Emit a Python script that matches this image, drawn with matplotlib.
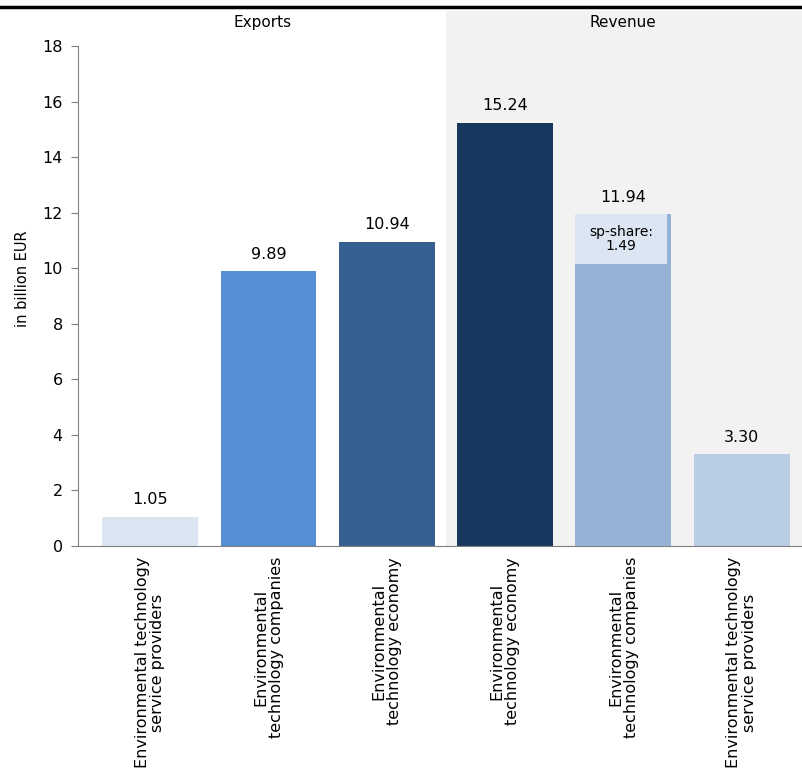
#!/usr/bin/env python3

import numpy as np
from matplotlib import pyplot as plt
from matplotlib.lines import Line2D

categories = [
    "Environmental technology\nservice providers",
    "Environmental\ntechnology companies",
    "Environmental\ntechnology economy",
    "Environmental\ntechnology economy",
    "Environmental\ntechnology companies",
    "Environmental technology\nservice providers",
]
values = [1.05, 9.89, 10.94, 15.24, 11.94, 3.30]
value_labels = ["1.05", "9.89", "10.94", "15.24", "11.94", "3.30"]
sp_share = 1.49
sp_share_bar = 4
sections = ["Exports", "Revenue"]
yticks = [0, 2, 4, 6, 8, 10, 12, 14, 16, 18]

colors = ["#dce6f2", "#558ed5", "#376092", "#17375e", "#95b3d7", "#b9cde5"]
share_color = "#dce6f2"
shade = "#f2f2f2"

plt.rcParams["font.family"] = ["DejaVu Sans"]
plt.rcParams["font.size"] = 10

fig = plt.figure(figsize=(8.02, 7.73), dpi=100)
W, H = 802, 773
# axes in pixel coords: left 78, right 802, bottom 546, top 11
ax = fig.add_axes([78 / W, 1 - 546 / H, (802 - 78) / W, (546 - 11) / H])

x = np.arange(len(values))
ax.set_xlim(-0.61, 5.51)
ax.set_ylim(0, 18 * 535 / 500)

ax.axvspan(2.5, 5.51, color=shade, lw=0, zorder=0)

width = 0.81
ax.bar(x, values, width=width, color=colors, zorder=2)

# service providers share on top of the revenue bar
base = values[sp_share_bar] - sp_share
ax.bar(sp_share_bar - 0.02, sp_share + 0.3, bottom=base - 0.3, width=width - 0.04,
       color=share_color, zorder=3)
ax.text(sp_share_bar - 0.02, base - 0.3 + (sp_share + 0.3) / 2,
        f"sp-share:\n{sp_share:.2f}",
        ha="center", va="center", fontsize=10, zorder=4, linespacing=1.0)

for xi, v, lab in zip(x, values, value_labels):
    ax.text(xi, v + 0.35, lab, ha="center", va="bottom", fontsize=11.5)

ax.text(0.95, 18.85, sections[0], ha="center", va="center", fontsize=11)
ax.text(4.0, 18.85, sections[1], ha="center", va="center", fontsize=11)

for s in ["top", "right"]:
    ax.spines[s].set_visible(False)
ax.spines["left"].set_color("#808080")
ax.spines["bottom"].set_color("#808080")
ax.spines["left"].set_bounds(0, 18)
ax.spines["bottom"].set_zorder(5)

ax.set_yticks(yticks)
ax.tick_params(axis="y", length=5, color="#808080", labelsize=11.5, pad=6)
ax.set_ylabel("in billion EUR", fontsize=10.5, labelpad=9)

ax.set_xticks(x)
ax.set_xticklabels(categories, rotation=90, ha="center", va="top",
                   multialignment="center", fontsize=11.5, linespacing=1.05)
ax.tick_params(axis="x", length=0, pad=8)

# thick rule across the top
fig.add_artist(Line2D([0, 1], [1 - 6.5 / H, 1 - 6.5 / H], color="black",
                      lw=2.5, transform=fig.transFigure))

fig.savefig("out.png", dpi=100)
